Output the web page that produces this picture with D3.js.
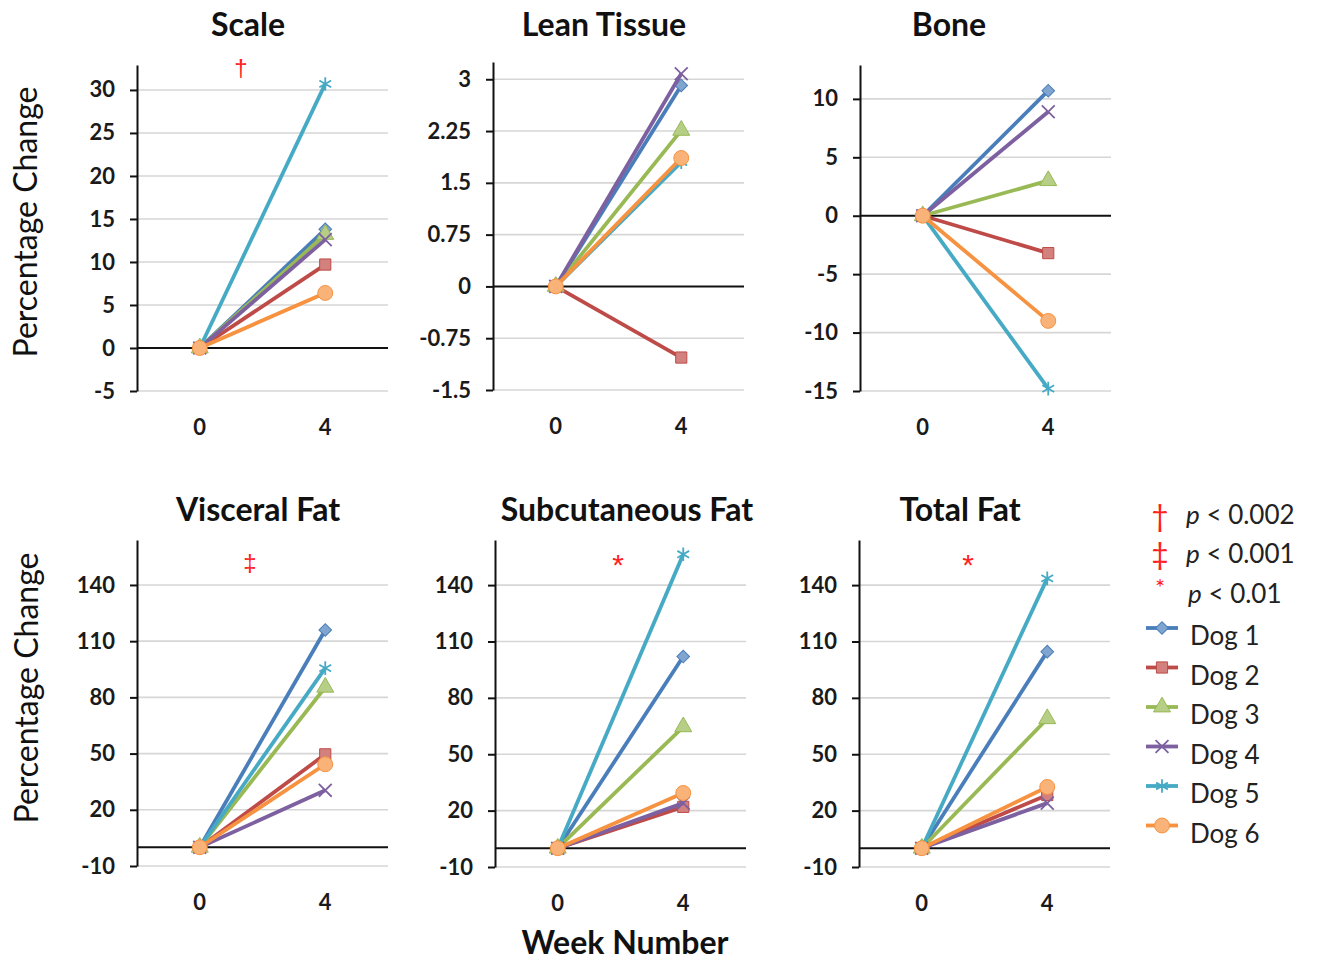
<!DOCTYPE html>
<html>
<head>
<meta charset="utf-8">
<script src="https://cdn.jsdelivr.net/npm/d3@7"></script>
<style>
  body { margin: 0; background: #ffffff; }
  text { font-family: Lato, "Open Sans", sans-serif; }
</style>
</head>
<body>
<div id="chart"></div>
<script>

// --> DATA
var dogs = ["Dog 1", "Dog 2", "Dog 3", "Dog 4", "Dog 5", "Dog 6"];
var weeks = ["0", "4"];
var panelTitles = ["Scale", "Lean Tissue", "Bone", "Visceral Fat", "Subcutaneous Fat", "Total Fat"];

// percentage change at week 0 is the baseline for every dog
var week0Values = [0, 0, 0, 0, 0, 0];

// percentage change at week 4, one value per dog
var scaleWeek4 = [13.8, 9.7, 13.2, 12.6, 30.7, 6.4];
var leanWeek4 = [2.91, -1.03, 2.26, 3.08, 1.80, 1.86];
var boneWeek4 = [10.7, -3.2, 3.0, 8.9, -14.8, -9.0];
var visceralWeek4 = [116, 49.6, 85.4, 30.4, 95.6, 44.3];
var subcutWeek4 = [102, 22, 64.6, 24, 156.4, 29.4];
var totalFatWeek4 = [104.6, 28.3, 68.9, 24, 143.6, 32.6];

// y axis tick labels
var scaleTicks = [-5, 0, 5, 10, 15, 20, 25, 30];
var leanTicks = [-1.5, -0.75, 0, 0.75, 1.5, 2.25, 3];
var boneTicks = [-15, -10, -5, 0, 5, 10];
var fatTicks = [-10, 20, 50, 80, 110, 140];

// y axis extents
var yMins = [-5, -1.5, -15, -10, -10, -10];
var yMaxs = [32.9, 3.25, 12.9, 164, 164, 164];

// significance marks
var sigMarks = ["\u2020", "", "", "\u2021", "*", "*"];
var sigSymbols = ["\u2020", "\u2021", "*"];
var sigLabels = ["0.002", "0.001", "0.01"];


// --> LAYOUT
var width = 1319,
    height = 961;

var colors = ["#4a7ebb", "#be4b48", "#98b954", "#7d60a0", "#46aac5", "#f69240"];
var symbols = [d3.symbolSquare, d3.symbolSquare, d3.symbolTriangle, d3.symbolTimes, d3.symbolAsterisk, d3.symbolCircle];
var symbolSizes = [80, 125, 125, 110, 130, 175];

var panels = [
    {values: scaleWeek4,    ticks: scaleTicks, left: 137, top: 65,  bottom: 391, titleX: 248, titleY: 36,  sigX: 241, sigY: 67},
    {values: leanWeek4,     ticks: leanTicks,  left: 493, top: 62,  bottom: 390, titleX: 604, titleY: 36,  sigX: 0,   sigY: 0},
    {values: boneWeek4,     ticks: boneTicks,  left: 860, top: 65,  bottom: 391, titleX: 949, titleY: 36,  sigX: 0,   sigY: 0},
    {values: visceralWeek4, ticks: fatTicks,   left: 137, top: 540, bottom: 866, titleX: 258, titleY: 521, sigX: 250, sigY: 562},
    {values: subcutWeek4,   ticks: fatTicks,   left: 495, top: 540, bottom: 867, titleX: 627, titleY: 521, sigX: 618, sigY: 558},
    {values: totalFatWeek4, ticks: fatTicks,   left: 859, top: 540, bottom: 867, titleX: 960, titleY: 521, sigX: 968, sigY: 558}
];
var plotWidth = 251;

var svg = d3.select("#chart").append("svg")
    .attr("width", width)
    .attr("height", height);

function markerFill(c) {
    return d3.interpolateRgb(c, "#ffffff")(0.3);
}

function drawMarker(g, i, x, y) {
    var isStroke = (i === 3 || i === 4);
    g.append("path")
        .attr("d", d3.symbol().type(symbols[i]).size(symbolSizes[i]))
        // dog 1 uses a square turned on its corner (diamond)
        .attr("transform", "translate(" + x + "," + y + ")" + (i === 0 ? " rotate(45)" : ""))
        .attr("fill", isStroke ? "none" : markerFill(colors[i]))
        .attr("stroke", colors[i])
        .attr("stroke-width", isStroke ? 1.8 : 1);
}


// --> PANELS
panels.forEach(function(p, k) {
    var g = svg.append("g");

    var x = d3.scaleBand()
        .domain(weeks)
        .range([p.left, p.left + plotWidth]);

    var y = d3.scaleLinear()
        .domain([yMins[k], yMaxs[k]])
        .range([p.bottom, p.top]);

    // gridlines
    g.selectAll(".grid")
        .data(p.ticks.filter(function(d) { return d !== 0; }))
        .enter().append("line")
        .attr("x1", p.left)
        .attr("x2", p.left + plotWidth)
        .attr("y1", function(d) { return y(d); })
        .attr("y2", function(d) { return y(d); })
        .attr("stroke", "#d6d6d6")
        .attr("stroke-width", 1.6);

    // zero line
    g.append("line")
        .attr("x1", p.left)
        .attr("x2", p.left + plotWidth)
        .attr("y1", y(0))
        .attr("y2", y(0))
        .attr("stroke", "#111")
        .attr("stroke-width", 2);

    // y axis
    var yAxis = d3.axisLeft(y)
        .tickValues(p.ticks)
        .tickSize(7)
        .tickSizeOuter(0)
        .tickPadding(15)
        .tickFormat(function(d) { return String(d); });

    var ax = g.append("g")
        .attr("transform", "translate(" + p.left + ",0)")
        .call(yAxis);
    ax.select(".domain").attr("stroke", "#111").attr("stroke-width", 2);
    ax.selectAll(".tick line").attr("stroke", "#111").attr("stroke-width", 2);
    ax.selectAll(".tick text")
        .attr("fill", "#1a1a1a")
        .style("font-family", "Lato, sans-serif")
        .style("font-size", "22px")
        .style("font-weight", "bold");

    // x labels
    g.selectAll(".xlab")
        .data(weeks)
        .enter().append("text")
        .attr("x", function(d) { return x(d) + x.bandwidth() / 2; })
        .attr("y", p.bottom + 44)
        .attr("text-anchor", "middle")
        .attr("fill", "#1a1a1a")
        .style("font-size", "22px")
        .style("font-weight", "bold")
        .text(function(d) { return d; });

    // one line per dog, markers on top
    dogs.forEach(function(dog, i) {
        var pts = [[weeks[0], week0Values[i]], [weeks[1], p.values[i]]];
        g.append("path")
            .datum(pts)
            .attr("fill", "none")
            .attr("stroke", colors[i])
            .attr("stroke-width", 3.8)
            .attr("d", d3.line()
                .x(function(d) { return x(d[0]) + x.bandwidth() / 2; })
                .y(function(d) { return y(d[1]); }));
        pts.forEach(function(d) {
            drawMarker(g, i, x(d[0]) + x.bandwidth() / 2, y(d[1]));
        });
    });

    // title
    g.append("text")
        .attr("x", p.titleX)
        .attr("y", p.titleY)
        .attr("text-anchor", "middle")
        .attr("fill", "#111")
        .style("font-size", "32px")
        .style("font-weight", "bold")
        .text(panelTitles[k]);

    // significance mark (asterisk glyph sits high, so it gets a lower baseline)
    if (sigMarks[k]) {
        var star = sigMarks[k] === "*";
        g.append("text")
            .attr("x", p.sigX)
            .attr("y", star ? p.sigY + 17 : p.sigY)
            .attr("text-anchor", "middle")
            .attr("dominant-baseline", star ? "auto" : "central")
            .attr("fill", "#ff2020")
            .style("font-family", "'Liberation Sans', Arial, sans-serif")
            .style("font-size", star ? "30px" : "24px")
            .text(sigMarks[k]);
    }
});


// --> AXIS TITLES
[222, 688].forEach(function(cy, i) {
    svg.append("text")
        .attr("transform", "translate(" + (i === 0 ? 37 : 38) + "," + cy + ") rotate(-90)")
        .attr("text-anchor", "middle")
        .attr("fill", "#111")
        .style("font-size", "32px")
        .text("Percentage Change");
});

svg.append("text")
    .attr("x", 625)
    .attr("y", 954)
    .attr("text-anchor", "middle")
    .attr("fill", "#111")
    .style("font-size", "32px")
    .style("font-weight", "bold")
    .text("Week Number");


// --> LEGEND
var legend = svg.append("g")
    .style("font-family", "'Liberation Sans', Arial, sans-serif");

var sigY = [524, 563, 603];
var sigSymY = [527, 565, 596];
var sigSymSize = [30, 30, 24];
sigSymbols.forEach(function(s, i) {
    legend.append("text")
        .attr("x", 1160)
        .attr("y", sigSymY[i])
        .attr("text-anchor", "middle")
        .attr("fill", "#ff2020")
        .style("font-size", sigSymSize[i] + "px")
        .text(s);
    var t = legend.append("text")
        .attr("x", i === 2 ? 1188 : 1186)
        .attr("y", sigY[i])
        .attr("fill", "#222")
        .style("font-size", "26px");
    t.append("tspan").style("font-style", "italic").text("p");
    t.append("tspan").text(" < " + sigLabels[i]);
});

dogs.forEach(function(dog, i) {
    var ly = 628 + i * 39.5;
    legend.append("line")
        .attr("x1", 1146)
        .attr("x2", 1178)
        .attr("y1", ly)
        .attr("y2", ly)
        .attr("stroke", colors[i])
        .attr("stroke-width", 3.8);
    drawMarker(legend, i, 1162, ly);
    legend.append("text")
        .attr("x", 1190)
        .attr("y", ly + 17)
        .attr("fill", "#222")
        .style("font-size", "26px")
        .text(dog);
});

</script>
</body>
</html>
